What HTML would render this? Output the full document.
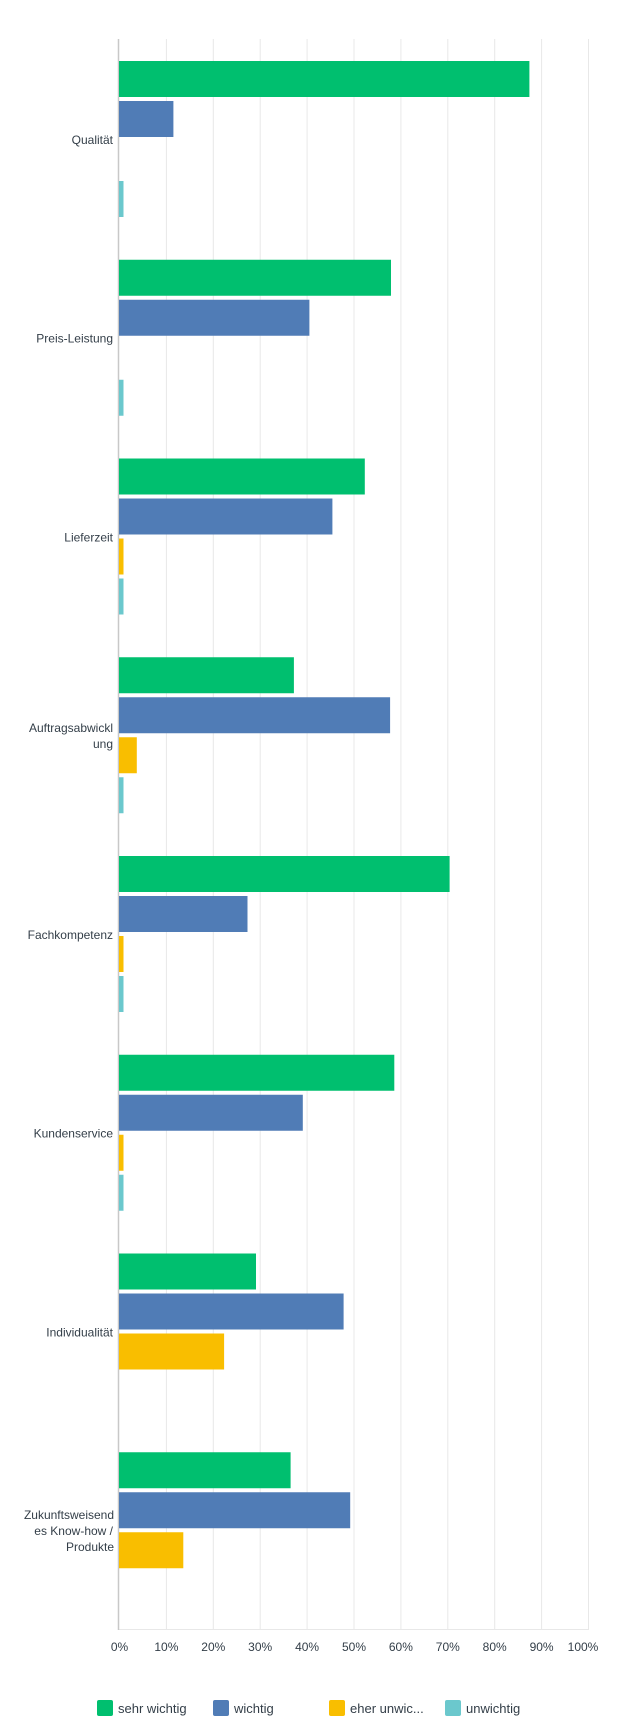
<!DOCTYPE html>
<html><head><meta charset="utf-8"><style>
html,body{margin:0;padding:0;background:#fff;}
svg{display:block;font-family:"Liberation Sans",sans-serif;}
</style></head><body>
<svg width="629" height="1732" viewBox="0 0 629 1732" xmlns="http://www.w3.org/2000/svg">
<g stroke="#e8e8e8" stroke-width="1">
<line x1="166.4" y1="39" x2="166.4" y2="1629"/>
<line x1="213.3" y1="39" x2="213.3" y2="1629"/>
<line x1="260.2" y1="39" x2="260.2" y2="1629"/>
<line x1="307.1" y1="39" x2="307.1" y2="1629"/>
<line x1="354" y1="39" x2="354" y2="1629"/>
<line x1="400.9" y1="39" x2="400.9" y2="1629"/>
<line x1="447.8" y1="39" x2="447.8" y2="1629"/>
<line x1="494.7" y1="39" x2="494.7" y2="1629"/>
<line x1="541.6" y1="39" x2="541.6" y2="1629"/>
<line x1="588.5" y1="39" x2="588.5" y2="1629"/>
<line x1="119" y1="1629.5" x2="589" y2="1629.5"/>
</g>
<line x1="118.5" y1="39" x2="118.5" y2="1630" stroke="#c8c8c8" stroke-width="1.5"/>
<g>
<!-- 1 Qualität top 39 -->
<rect x="119" y="61" width="410.4" height="36" fill="#00bf6f"/>
<rect x="119" y="101" width="54.4" height="36" fill="#507cb6"/>
<rect x="119" y="181" width="4.5" height="36" fill="#6bc8cd"/>
<!-- 2 Preis top 237.75 -->
<rect x="119" y="259.75" width="272" height="36" fill="#00bf6f"/>
<rect x="119" y="299.75" width="190.4" height="36" fill="#507cb6"/>
<rect x="119" y="379.75" width="4.5" height="36" fill="#6bc8cd"/>
<!-- 3 Liefer top 436.5 -->
<rect x="119" y="458.5" width="245.8" height="36" fill="#00bf6f"/>
<rect x="119" y="498.5" width="213.4" height="36" fill="#507cb6"/>
<rect x="119" y="538.5" width="4.5" height="36" fill="#f9be00"/>
<rect x="119" y="578.5" width="4.5" height="36" fill="#6bc8cd"/>
<!-- 4 Auftrag top 635.25 -->
<rect x="119" y="657.25" width="174.9" height="36" fill="#00bf6f"/>
<rect x="119" y="697.25" width="271.1" height="36" fill="#507cb6"/>
<rect x="119" y="737.25" width="17.8" height="36" fill="#f9be00"/>
<rect x="119" y="777.25" width="4.5" height="36" fill="#6bc8cd"/>
<!-- 5 Fach top 834 -->
<rect x="119" y="856" width="330.6" height="36" fill="#00bf6f"/>
<rect x="119" y="896" width="128.5" height="36" fill="#507cb6"/>
<rect x="119" y="936" width="4.5" height="36" fill="#f9be00"/>
<rect x="119" y="976" width="4.5" height="36" fill="#6bc8cd"/>
<!-- 6 Kunden top 1032.75 -->
<rect x="119" y="1054.75" width="275.3" height="36" fill="#00bf6f"/>
<rect x="119" y="1094.75" width="183.8" height="36" fill="#507cb6"/>
<rect x="119" y="1134.75" width="4.5" height="36" fill="#f9be00"/>
<rect x="119" y="1174.75" width="4.5" height="36" fill="#6bc8cd"/>
<!-- 7 Indiv top 1231.5 -->
<rect x="119" y="1253.5" width="137" height="36" fill="#00bf6f"/>
<rect x="119" y="1293.5" width="224.6" height="36" fill="#507cb6"/>
<rect x="119" y="1333.5" width="105.1" height="36" fill="#f9be00"/>
<!-- 8 Zukunft top 1430.25 -->
<rect x="119" y="1452.25" width="171.6" height="36" fill="#00bf6f"/>
<rect x="119" y="1492.25" width="231.2" height="36" fill="#507cb6"/>
<rect x="119" y="1532.25" width="64.3" height="36" fill="#f9be00"/>
</g>
<g font-size="12" fill="#333e48" text-anchor="end">
<text x="113" y="143.9">Qualität</text>
<text x="113" y="342.6">Preis-Leistung</text>
<text x="113" y="541.4">Lieferzeit</text>
<text x="113" y="732">Auftragsabwickl</text>
<text x="113" y="748">ung</text>
<text x="113" y="938.9">Fachkompetenz</text>
<text x="113" y="1137.6">Kundenservice</text>
<text x="113" y="1336.4">Individualität</text>
<text x="114" y="1519">Zukunftsweisend</text>
<text x="113" y="1535">es Know-how /</text>
<text x="114" y="1551">Produkte</text>
</g>
<g font-size="12" fill="#333e48" text-anchor="middle">
<text x="119.5" y="1651">0%</text>
<text x="166.4" y="1651">10%</text>
<text x="213.3" y="1651">20%</text>
<text x="260.2" y="1651">30%</text>
<text x="307.1" y="1651">40%</text>
<text x="354" y="1651">50%</text>
<text x="400.9" y="1651">60%</text>
<text x="447.8" y="1651">70%</text>
<text x="494.7" y="1651">80%</text>
<text x="541.6" y="1651">90%</text>
<text x="583" y="1651">100%</text>
</g>
<g font-size="13" fill="#333e48">
<rect x="97" y="1700" width="16" height="16" rx="2" fill="#00bf6f"/>
<text x="118" y="1713">sehr wichtig</text>
<rect x="213" y="1700" width="16" height="16" rx="2" fill="#507cb6"/>
<text x="234" y="1713">wichtig</text>
<rect x="329" y="1700" width="16" height="16" rx="2" fill="#f9be00"/>
<text x="350" y="1713">eher unwic...</text>
<rect x="445" y="1700" width="16" height="16" rx="2" fill="#6bc8cd"/>
<text x="466" y="1713">unwichtig</text>
</g>
</svg>
</body></html>
